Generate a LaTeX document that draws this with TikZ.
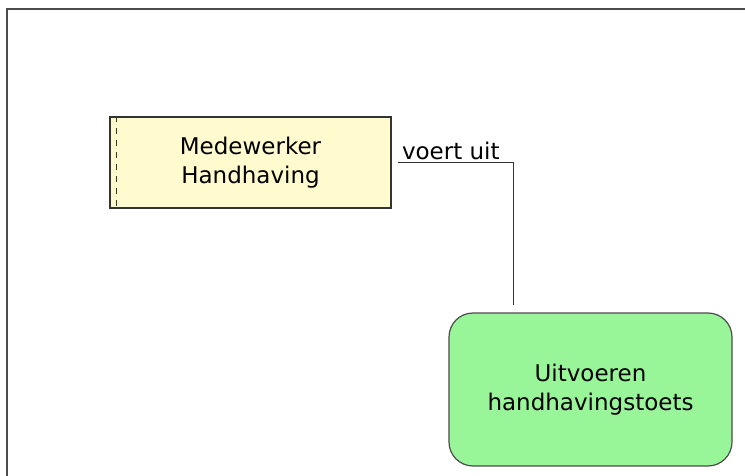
\documentclass[tikz,border=0pt]{standalone}
\usepackage{fontspec}
\setmainfont{DejaVu Sans}
\usepackage{xcolor}
\usepackage{tikz}
\usetikzlibrary{arrows.meta,positioning,calc}
\definecolor{rolyellow}{RGB}{255,251,206}
\definecolor{actgreen}{RGB}{152,245,152}

\begin{document}
\begin{tikzpicture}[
  x=0.5pt, y=-0.5pt,
  font=\fontsize{11.5}{14.5}\selectfont,
  rolbox/.style={draw=black!80, fill=rolyellow, rectangle, minimum width=140.5pt, minimum height=45.5pt, align=center, line width=0.6pt},
  actbox/.style={draw=black!70, fill=actgreen, rectangle, rounded corners=12pt, minimum width=141.5pt, minimum height=76.5pt, align=center, line width=0.6pt},
  relline/.style={-, line width=0.6pt, draw=black!80},
]
\useasboundingbox (0,0) rectangle (745,476);
% kader
\draw[line width=1.2pt, black!70] (7,476) -- (7,9) -- (745,9);
\node[rolbox] (medw) at (250.5,162.5) {Medewerker\\Handhaving};
\draw[dashed, black!80, line width=0.5pt] ([xshift=3.5pt]medw.north west) -- ([xshift=3.5pt]medw.south west);
\node[actbox] (toets) at (590.5,389.5) {Uitvoeren\\handhavingstoets};
\coordinate (toetsin) at ([xshift=32.5pt]toets.north west);
\node[anchor=south west, inner sep=1pt] (rellbl) at ([xshift=4pt]medw.east) {voert uit};
\draw[relline, shorten <=3pt, shorten >=3.5pt] (medw.east) -| (toetsin);
\end{tikzpicture}
\end{document}
